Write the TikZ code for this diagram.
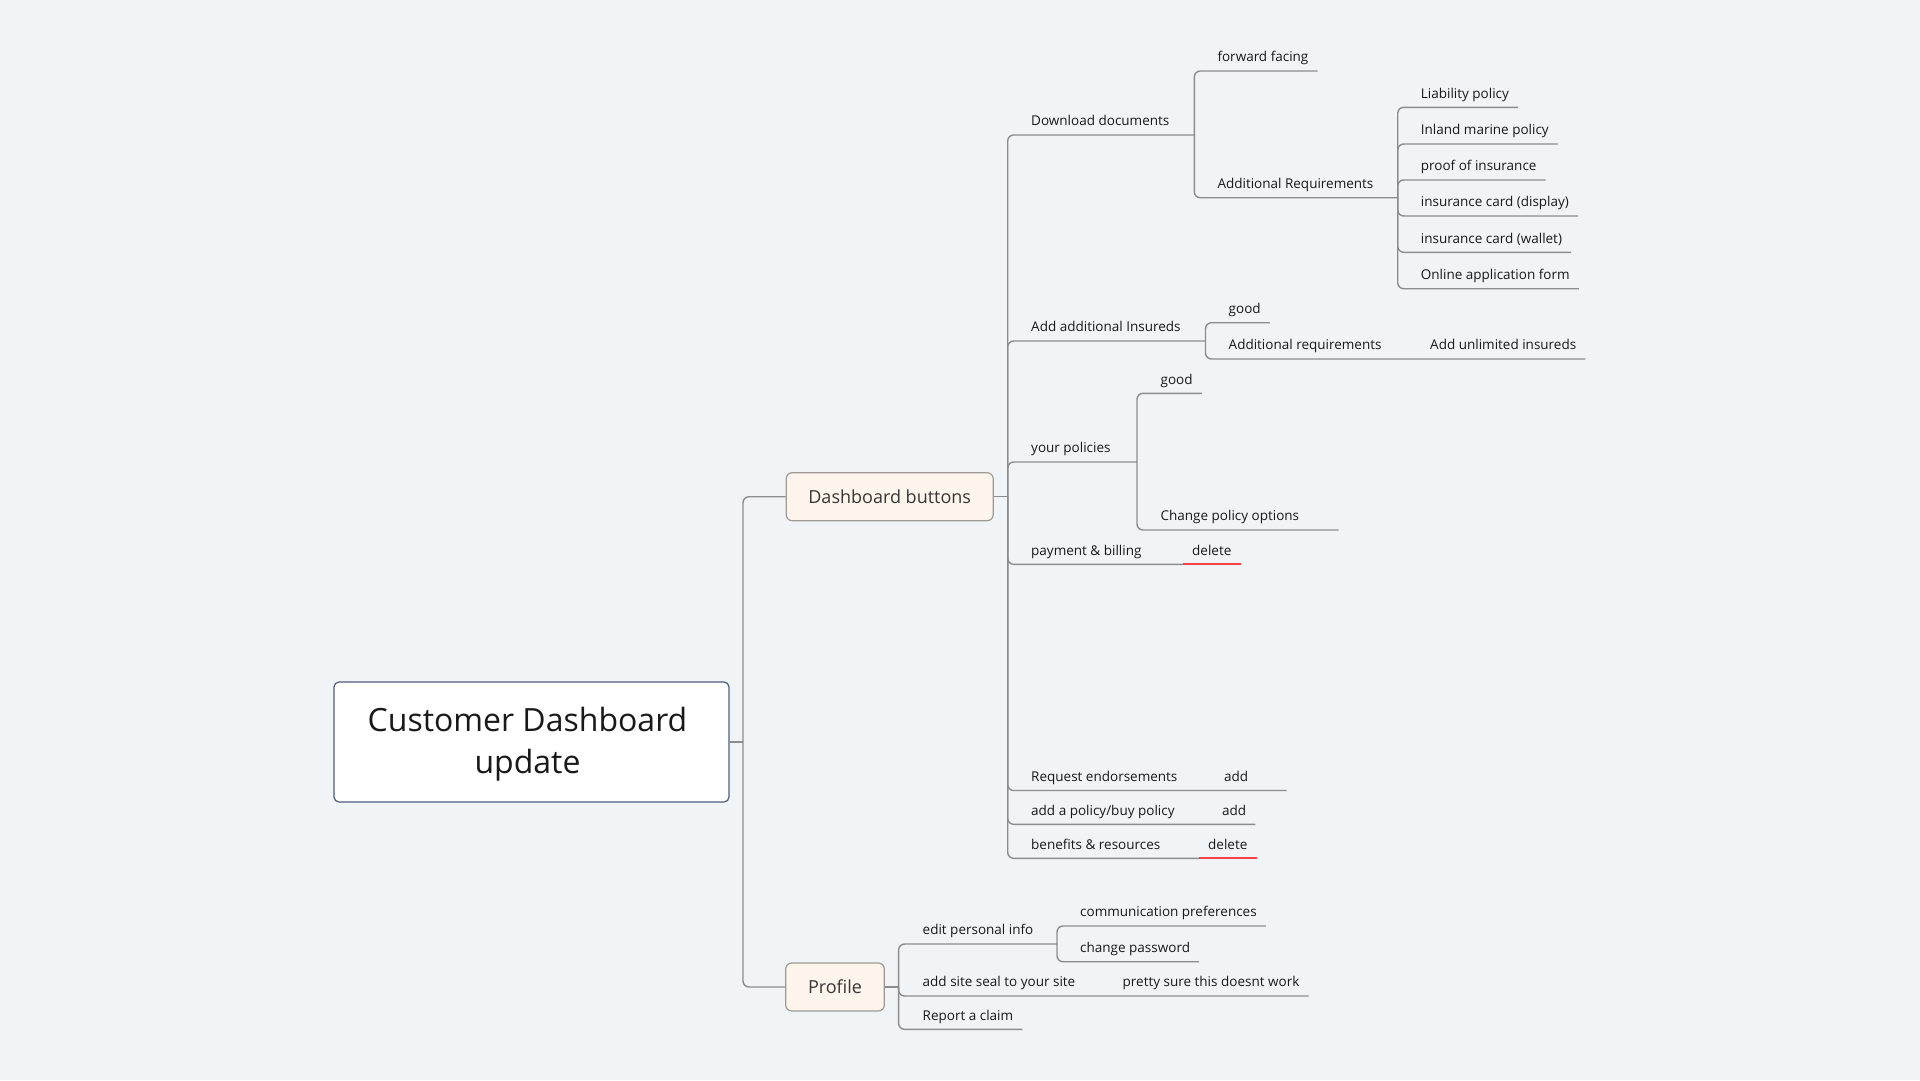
\documentclass[tikz,border=0pt]{standalone}
\usepackage{fontspec}
\setmainfont{Open Sans}
\usetikzlibrary{calc}
\definecolor{bg}{RGB}{240,244,247}
\definecolor{linegray}{RGB}{140,140,140}
\definecolor{rootborder}{RGB}{80,92,125}
\definecolor{peach}{RGB}{253,244,236}
\definecolor{peachborder}{RGB}{160,154,148}
\definecolor{delred}{RGB}{245,65,65}
\definecolor{txt}{RGB}{25,25,25}
\begin{document}
\begin{tikzpicture}[x=1pt,y=-1pt,
  conn/.style={draw=linegray, line width=1.4pt, rounded corners=6pt},
  redline/.style={draw=delred, line width=2pt},
  topic/.style={anchor=south west, inner xsep=9pt, inner ysep=0pt, text depth=9pt, text height=10pt, font=\fontsize{13.5}{16}\selectfont, text=txt},
  rootbox/.style={draw=rootborder, fill=white, line width=1.2pt, rounded corners=5pt, minimum width=395pt, minimum height=120pt, inner sep=0pt},
  roottext/.style={align=center, font=\fontsize{32}{42}\selectfont, text=txt, inner sep=0pt},
  mainbox/.style={draw=peachborder, fill=peach, line width=1.2pt, rounded corners=6pt, minimum height=48pt, inner sep=0pt, font=\fontsize{18}{22}\selectfont, text={rgb,255:red,55;green,55;blue,55}}
]
\useasboundingbox (0,0) rectangle (1920,1080);
\fill[bg] (0,0) rectangle (1920,1080);

% main nodes
\node[rootbox] (root) at (531.5,742) {};
\node[roottext] (roottxt) at (527.5,744.5) {Customer Dashboard\\update};
\node[mainbox, minimum width=207pt] (db) at (889.7,496.7) {Dashboard buttons};
\node[mainbox, minimum width=98.6pt] (pr) at (835,987) {Profile};

% junction coordinates
\coordinate (jR) at (743,742);
\coordinate (jD) at (1007.7,496.7);
\coordinate (jP) at (898.6,987);
\coordinate (jDD) at (1194.3,135);
\coordinate (jAR) at (1397.7,197.7);
\coordinate (jAI) at (1205.5,341);
\coordinate (jYP) at (1137,462);
\coordinate (jEP) at (1057,944);

% Dashboard children
\node[topic] (dd) at (1022,135) {Download documents};
\node[topic] (ai) at (1022,341) {Add additional Insureds};
\node[topic] (yp) at (1022,462) {your policies};
\node[topic] (pb) at (1022,564.3) {payment \& billing};
\node[topic] (re) at (1022,790.5) {Request endorsements};
\node[topic] (ap) at (1022,824.3) {add a policy/buy policy};
\node[topic] (br) at (1022,858.3) {benefits \& resources};

% Download documents children
\node[topic] (ff) at (1208.3,71) {forward facing};
\node[topic] (ar) at (1208.3,197.7) {Additional Requirements};

% Additional Requirements children
\node[topic] (lp) at (1411.7,107.3) {Liability policy};
\node[topic] (im) at (1411.7,144) {Inland marine policy};
\node[topic] (pi) at (1411.7,180) {proof of insurance};
\node[topic] (cd) at (1411.7,216) {insurance card (display)};
\node[topic] (cw) at (1411.7,252.3) {insurance card (wallet)};
\node[topic] (oa) at (1411.7,288.7) {Online application form};

% Add additional Insureds children
\node[topic] (g1) at (1219.5,322.7) {good};
\node[topic] (aq) at (1219.5,359) {Additional requirements};
\node[topic] (au) at (1421,359) {Add unlimited insureds};

% your policies children
\node[topic] (g2) at (1151.4,393.3) {good};
\node[topic] (cp) at (1151.4,530) {Change policy options};
\coordinate (cpEnd) at (1338.7,530);

% inline children
\node[topic] (del1) at (1183,564.3) {delete};
\node[topic] (ad1) at (1215,790.5) {add};
\coordinate (ad1End) at (1286.7,790.5);
\node[topic] (ad2) at (1213,824.3) {add};
\node[topic] (del2) at (1199,858.3) {delete};

% Profile children
\node[topic] (ep) at (913.5,944) {edit personal info};
\node[topic] (cpf) at (1071,926) {communication preferences};
\node[topic] (pw) at (1071,961.7) {change password};
\node[topic] (ss) at (913.5,996) {add site seal to your site};
\node[topic] (ps) at (1113.5,996) {pretty sure this doesnt work};
\node[topic] (rc) at (913.5,1029.3) {Report a claim};

% root connectors
\draw[conn] (root.east) -- (jR);
\draw[conn] (jR) |- (db.west);
\draw[conn] (jR) |- (pr.west);

% dashboard connectors
\draw[conn] (db.east) -- (jD);
\draw[conn] (jD) |- (dd.south west) -- (dd.south east) -- (jDD);
\draw[conn] (jD) |- (ai.south west) -- (ai.south east) -- (jAI);
\draw[conn] (jD) |- (yp.south west) -- (yp.south east) -- (jYP);
\draw[conn] (jD) |- (pb.south west) -- (pb.south east) -- (del1.south west);
\draw[redline] (del1.south west) -- (del1.south east);
\draw[conn] (jD) |- (re.south west) -- (re.south east) -- (ad1.south west) -- (ad1End);
\draw[conn] (jD) |- (ap.south west) -- (ap.south east) -- (ad2.south west) -- (ad2.south east);
\draw[conn] (jD) |- (br.south west) -- (br.south east) -- (del2.south west);
\draw[redline] (del2.south west) -- (del2.south east);

% download documents
\draw[conn] (jDD) |- (ff.south west) -- (ff.south east);
\draw[conn] (jDD) |- (ar.south west) -- (ar.south east) -- (jAR);

% additional requirements
\draw[conn] (jAR) |- (lp.south west) -- (lp.south east);
\draw[conn] (jAR) |- (im.south west) -- (im.south east);
\draw[conn] (jAR) |- (pi.south west) -- (pi.south east);
\draw[conn] (jAR) |- (cd.south west) -- (cd.south east);
\draw[conn] (jAR) |- (cw.south west) -- (cw.south east);
\draw[conn] (jAR) |- (oa.south west) -- (oa.south east);

% add additional insureds
\draw[conn] (jAI) |- (g1.south west) -- (g1.south east);
\draw[conn] (jAI) |- (aq.south west) -- (aq.south east) -- (au.south west) -- (au.south east);

% your policies
\draw[conn] (jYP) |- (g2.south west) -- (g2.south east);
\draw[conn] (jYP) |- (cp.south west) -- (cpEnd);

% profile
\draw[conn] (pr.east) -- (jP);
\draw[conn] (jP) |- (ep.south west) -- (ep.south east) -- (jEP);
\draw[conn] (jEP) |- (cpf.south west) -- (cpf.south east);
\draw[conn] (jEP) |- (pw.south west) -- (pw.south east);
\draw[conn] (jP) |- (ss.south west) -- (ss.south east) -- (ps.south west) -- (ps.south east);
\draw[conn] (jP) |- (rc.south west) -- (rc.south east);
\end{tikzpicture}
\end{document}
